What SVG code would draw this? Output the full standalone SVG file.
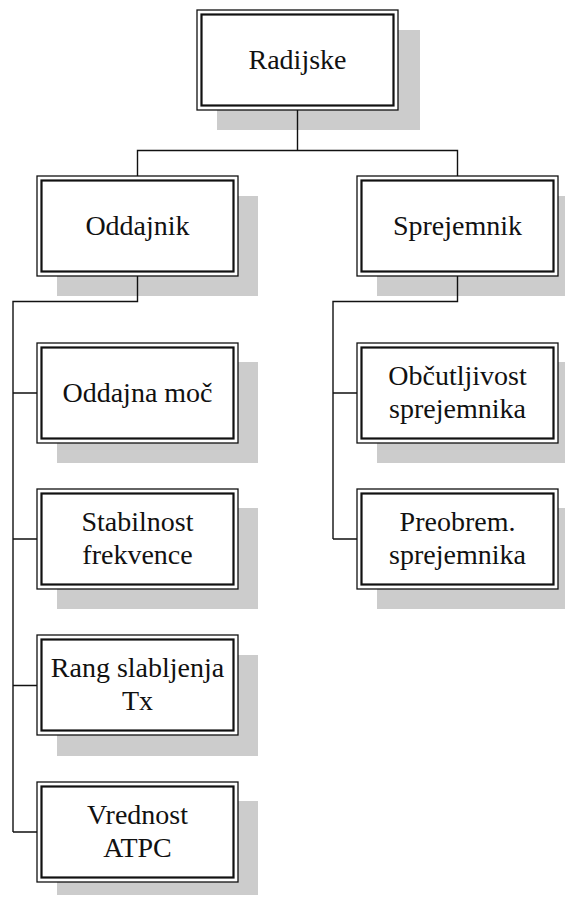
<svg xmlns="http://www.w3.org/2000/svg" width="565" height="897" viewBox="0 0 565 897">
<defs>
<style>
.sh{fill:#cccccc;stroke:none}
.bo{fill:#ffffff;stroke:#111111;stroke-width:1.3}
.bi{fill:none;stroke:#111111;stroke-width:2.2}
.t{font-size:28px;fill:#111111;text-anchor:middle}
.c{fill:none;stroke:#111111;stroke-width:1.4}
</style>
</defs>
<rect width="565" height="897" fill="#ffffff"/>
<g id="node-radijske">
<rect class="sh" x="217" y="30" width="203" height="100"/>
<rect class="bo" x="197" y="10" width="201" height="100"/>
<rect class="bi" x="201.5" y="14.5" width="192" height="91"/>
<text class="t" font-family="Liberation Serif, serif" x="297.5" y="69">Radijske</text>
</g>
<g id="node-oddajnik">
<rect class="sh" x="57" y="196" width="201" height="100"/>
<rect class="bo" x="37" y="176" width="201" height="100"/>
<rect class="bi" x="41.5" y="180.5" width="192" height="91"/>
<text class="t" font-family="Liberation Serif, serif" x="137.5" y="235">Oddajnik</text>
</g>
<g id="node-sprejemnik">
<rect class="sh" x="377" y="196" width="201" height="100"/>
<rect class="bo" x="357" y="176" width="201" height="100"/>
<rect class="bi" x="361.5" y="180.5" width="192" height="91"/>
<text class="t" font-family="Liberation Serif, serif" x="457.5" y="235">Sprejemnik</text>
</g>
<g id="node-oddajna-moc">
<rect class="sh" x="57" y="362" width="201" height="101"/>
<rect class="bo" x="37" y="343" width="201" height="100"/>
<rect class="bi" x="41.5" y="347.5" width="192" height="91"/>
<text class="t" font-family="Liberation Serif, serif" x="137.5" y="402">Oddajna moč</text>
</g>
<g id="node-stabilnost">
<rect class="sh" x="57" y="508" width="201" height="101"/>
<rect class="bo" x="37" y="489" width="201" height="100"/>
<rect class="bi" x="41.5" y="493.5" width="192" height="91"/>
<text class="t" font-family="Liberation Serif, serif" x="137.5" y="531">Stabilnost</text>
<text class="t" font-family="Liberation Serif, serif" x="137.5" y="564">frekvence</text>
</g>
<g id="node-rang">
<rect class="sh" x="57" y="655" width="201" height="101"/>
<rect class="bo" x="37" y="635" width="201" height="100"/>
<rect class="bi" x="41.5" y="639.5" width="192" height="91"/>
<text class="t" font-family="Liberation Serif, serif" x="137.5" y="677">Rang slabljenja</text>
<text class="t" font-family="Liberation Serif, serif" x="137.5" y="710">Tx</text>
</g>
<g id="node-vrednost">
<rect class="sh" x="57" y="801" width="201" height="94"/>
<rect class="bo" x="37" y="782" width="201" height="100"/>
<rect class="bi" x="41.5" y="786.5" width="192" height="91"/>
<text class="t" font-family="Liberation Serif, serif" x="137.5" y="824">Vrednost</text>
<text class="t" font-family="Liberation Serif, serif" x="137.5" y="857">ATPC</text>
</g>
<g id="node-obcutljivost">
<rect class="sh" x="377" y="362" width="201" height="101"/>
<rect class="bo" x="357" y="343" width="201" height="100"/>
<rect class="bi" x="361.5" y="347.5" width="192" height="91"/>
<text class="t" font-family="Liberation Serif, serif" x="457.5" y="385">Občutljivost</text>
<text class="t" font-family="Liberation Serif, serif" x="457.5" y="418">sprejemnika</text>
</g>
<g id="node-preobrem">
<rect class="sh" x="377" y="508" width="201" height="101"/>
<rect class="bo" x="357" y="489" width="201" height="100"/>
<rect class="bi" x="361.5" y="493.5" width="192" height="91"/>
<text class="t" font-family="Liberation Serif, serif" x="457.5" y="531">Preobrem.</text>
<text class="t" font-family="Liberation Serif, serif" x="457.5" y="564">sprejemnika</text>
</g>
<g id="connectors">
<path class="c" d="M297.5 110 V150.5 M137.5 176 V150.5 H457.5 V176"/>
<path class="c" d="M137.5 276 V301.5 H13 V832 M13 393 H37 M13 539 H37 M13 685.5 H37 M13 832 H37"/>
<path class="c" d="M457.5 276 V301.5 H333 V539 M333 393 H357 M333 539 H357"/>
</g>
</svg>
